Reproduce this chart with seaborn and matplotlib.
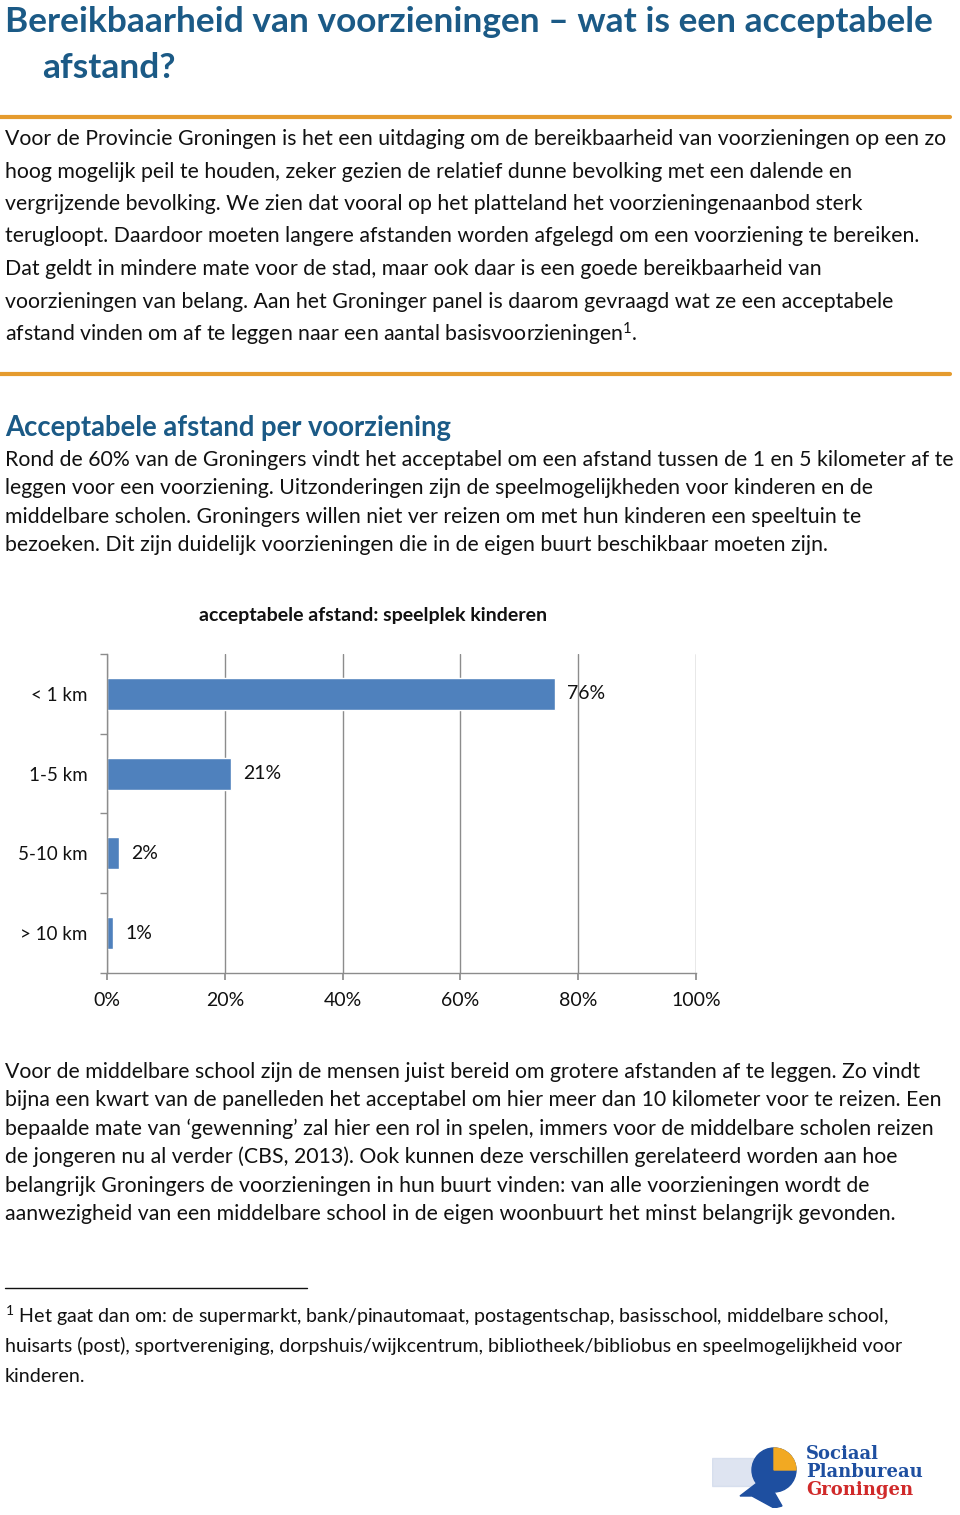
import numpy as np
import matplotlib.pyplot as plt
import matplotlib.patches as mpatches
import seaborn as sns
import pandas as pd

# --- DATA ---
categories = ['< 1 km', '1-5 km', '5-10 km', '> 10 km']
shares = [76, 21, 2, 1]
x_ticks = [0, 20, 40, 60, 80, 100]
x_tick_labels = ['0%', '20%', '40%', '60%', '80%', '100%']

title_lines = ['Bereikbaarheid van voorzieningen \u2013 wat is een acceptabele', 'afstand?']
intro_lines = [
    'Voor de Provincie Groningen is het een uitdaging om de bereikbaarheid van voorzieningen op een zo',
    'hoog mogelijk peil te houden, zeker gezien de relatief dunne bevolking met een dalende en',
    'vergrijzende bevolking. We zien dat vooral op het platteland het voorzieningenaanbod sterk',
    'terugloopt. Daardoor moeten langere afstanden worden afgelegd om een voorziening te bereiken.',
    'Dat geldt in mindere mate voor de stad, maar ook daar is een goede bereikbaarheid van',
    'voorzieningen van belang. Aan het Groninger panel is daarom gevraagd wat ze een acceptabele',
    'afstand vinden om af te leggen naar een aantal basisvoorzieningen$^{1}$.',
]
heading = 'Acceptabele afstand per voorziening'
para1_lines = [
    'Rond de 60% van de Groningers vindt het acceptabel om een afstand tussen de 1 en 5 kilometer af te',
    'leggen voor een voorziening. Uitzonderingen zijn de speelmogelijkheden voor kinderen en de',
    'middelbare scholen. Groningers willen niet ver reizen om met hun kinderen een speeltuin te',
    'bezoeken. Dit zijn duidelijk voorzieningen die in de eigen buurt beschikbaar moeten zijn.',
]
chart_title = 'acceptabele afstand: speelplek kinderen'
para2_lines = [
    'Voor de middelbare school zijn de mensen juist bereid om grotere afstanden af te leggen. Zo vindt',
    'bijna een kwart van de panelleden het acceptabel om hier meer dan 10 kilometer voor te reizen. Een',
    'bepaalde mate van \u2018gewenning\u2019 zal hier een rol in spelen, immers voor de middelbare scholen reizen',
    'de jongeren nu al verder (CBS, 2013). Ook kunnen deze verschillen gerelateerd worden aan hoe',
    'belangrijk Groningers de voorzieningen in hun buurt vinden: van alle voorzieningen wordt de',
    'aanwezigheid van een middelbare school in de eigen woonbuurt het minst belangrijk gevonden.',
]
footnote_lines = [
    '$^{1}$ Het gaat dan om: de supermarkt, bank/pinautomaat, postagentschap, basisschool, middelbare school,',
    'huisarts (post), sportvereniging, dorpshuis/wijkcentrum, bibliotheek/bibliobus en speelmogelijkheid voor',
    'kinderen.',
]

# --- STYLE ---
sns.set_theme(style="white")
plt.rcParams['font.family'] = ['Lato', 'DejaVu Sans']
plt.rcParams['mathtext.default'] = 'regular'

W, H = 960, 1515
BLUE_TXT = '#1B5A86'
ORANGE = '#E59B2E'
BAR = '#4F81BD'
GRID = '#8C8C8C'
BODY = 15.3

fig = plt.figure(figsize=(W / 100, H / 100), dpi=100)


def px(x, y):
    return x / W, 1 - y / H


def put(x, y, s, **kw):
    fx, fy = px(x, y)
    fig.text(fx, fy, s, va='center', ha=kw.pop('ha', 'left'), **kw)


# title
put(5, 22, title_lines[0], fontsize=25.4, fontweight='bold', color=BLUE_TXT)
put(42, 68, title_lines[1], fontsize=25.4, fontweight='bold', color=BLUE_TXT)

# orange rules
for yy in (117, 374):
    fig.add_artist(plt.Line2D([0, 950 / W], [1 - yy / H] * 2, color=ORANGE, lw=3))

for i, line in enumerate(intro_lines):
    put(5, 139 + i * 32.5, line, fontsize=BODY, color='#111111')

put(5, 428, heading, fontsize=19.8, fontweight='bold', color=BLUE_TXT)
for i, line in enumerate(para1_lines):
    put(5, 460 + i * 28.4, line, fontsize=BODY, color='#111111')

# --- CHART ---
df = pd.DataFrame({'categorie': categories, 'aandeel': shares})
left, right, top, bottom = 107, 696, 654, 973
ax = fig.add_axes([left / W, 1 - bottom / H, (right - left) / W, (bottom - top) / H])
sns.barplot(data=df, y='categorie', x='aandeel', orient='h', color=BAR,
            width=0.4, saturation=1, ax=ax)
ax.set_xlim(0, 100)
ax.set_ylim(3.5, -0.5)
ax.set_xticks(x_ticks)
ax.set_xticklabels(x_tick_labels)
ax.set_yticks(range(len(categories)))
ax.set_yticklabels(categories)
ax.set_yticks(np.arange(-0.5, len(categories), 1), minor=True)
ax.set_xlabel('')
ax.set_ylabel('')
ax.xaxis.grid(True, color=GRID, lw=1)
ax.set_axisbelow(True)
for s in ('top', 'right'):
    ax.spines[s].set_visible(False)
for s in ('left', 'bottom'):
    ax.spines[s].set_color(GRID)
    ax.spines[s].set_linewidth(1)
ax.tick_params(axis='y', which='major', length=0, pad=14, labelsize=13.5)
ax.tick_params(axis='y', which='minor', length=5, color=GRID, direction='out', left=True)
ax.tick_params(axis='x', length=5, color=GRID, direction='out', bottom=True, pad=9, labelsize=14)
for lbl in ax.get_xticklabels() + ax.get_yticklabels():
    lbl.set_color('#111111')
for c in ax.containers:
    ax.bar_label(c, labels=[f'{v}%' for v in shares], padding=9, fontsize=14, color='#111111')

put(373, 616, chart_title, fontsize=14, fontweight='bold', color='#111111', ha='center')

for i, line in enumerate(para2_lines):
    put(5, 1072 + i * 28.4, line, fontsize=BODY, color='#111111')

# footnote rule + text
fig.add_artist(plt.Line2D([5 / W, 307 / W], [1 - 1288 / H] * 2, color='#111111', lw=1))
for i, line in enumerate(footnote_lines):
    put(5, 1316 + i * 30, line, fontsize=14.1, color='#111111')

# logo
lax = fig.add_axes([712 / W, 1 - 1508 / H, 90 / W, 70 / H])
lax.set_xlim(0, 90)
lax.set_ylim(0, 70)
lax.axis('off')
lax.add_patch(mpatches.Rectangle((0, 22), 60, 28, color='#C9D3E8', alpha=0.6))
lax.add_patch(mpatches.Circle((62, 38), 22, color='#1E4FA0'))
lax.add_patch(mpatches.Wedge((62, 38), 22, 0, 90, color='#F2A922'))
lax.add_patch(mpatches.Polygon([[45, 25], [62, 16], [70, 2], [62, 0], [40, 12], [28, 12]], color='#1E4FA0'))
put(806, 1454, 'Sociaal', fontsize=13, fontweight='bold', color='#1E4FA0', family='DejaVu Serif')
put(806, 1472, 'Planbureau', fontsize=13, fontweight='bold', color='#1E4FA0', family='DejaVu Serif')
put(806, 1490, 'Groningen', fontsize=13, fontweight='bold', color='#D02A2A', family='DejaVu Serif')

fig.savefig('out.png', dpi=100)
